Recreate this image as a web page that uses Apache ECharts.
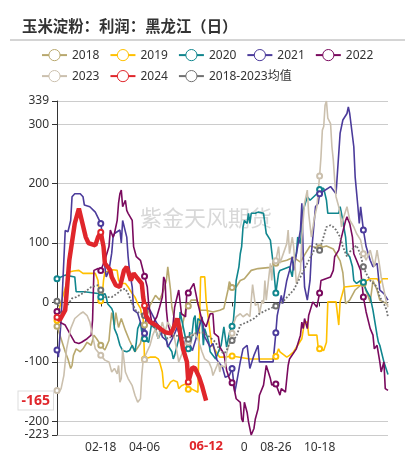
<!DOCTYPE html>
<html><head><meta charset="utf-8">
<script src="https://cdn.jsdelivr.net/npm/echarts@6/dist/echarts.min.js"></script>
<style>html,body{margin:0;padding:0;background:#fff}#c{width:415px;height:460px}</style>
</head><body><div id="c"></div>
<script>
// trading days per month (MM-DD categories)
const monthDays = [
  [2,3,4,5,8,9,10,11,12,15,16,17,18,19,22,23,24,25,26,29,30,31],
  [1,2,5,6,7,8,9,14,15,16,18,19,20,21,22,23,26,27,28,29],
  [1,4,5,6,7,8,11,12,13,14,15,18,19,20,21,22,25,26,27,28,29],
  [3,6,7,8,9,10,11,12,15,16,17,18,19,22,23,24,25,26,28,29,30],
  [6,7,8,9,10,13,14,15,16,17,20,21,22,23,24,27,28,29,30],
  [3,4,5,6,7,11,12,13,14,17,18,19,20,21,24,25,26,27],
  [1,2,3,4,5,8,9,10,11,15,16,17,18,19,22,23,24,25,26,29,30,31],
  [1,2,5,6,7,8,9,12,13,14,15,16,19,20,21,22,23,26,27,28,29,30],
  [2,3,4,5,6,9,10,11,12,13,16,17,18,19,20,23,24,25,26,27],
  [9,10,11,14,15,16,17,18,21,22,23,24,25,28,29,30,31],
  [1,4,5,6,7,8,11,12,13,14,15,18,19,20,21,22,25,26,27,28,29],
  [2,3,4,5,6,9,10,11,12,13,16,17,18,19,20,23,24,25,26,27]
];
const categories = [];
monthDays.forEach((days, m) => days.forEach(d => categories.push(String(m + 1).padStart(2, '0') + '-' + String(d).padStart(2, '0'))));

const labelIndices = [32, 64, 96, 128, 160, 192];
const markerIndices = [0, 32, 64, 96, 128, 160, 192, 224];
const currentIndex = 109;   // 06-12
const currentValue = -165;
const yMin = -223, yMax = 339;

const seriesNames = ['2018', '2019', '2020', '2021', '2022', '2023', '2024', '2018-2023均值'];
const seriesColors = ['#b8a86e', '#ffc000', '#10868e', '#4b3b9b', '#7a0a5e', '#cbc0ae', '#e0262b', '#707070'];

const s2018 = [[0,-40],[3,-61],[6,-83],[8,-95],[10,-111],[11,-106],[12,-89],[14,-78],[17,-83],[19,-78],[22,-67],[25,-72],[27,-55],[29,-61],[32,-72],[35,-80],[38,-64],[39,-38],[40,-17],[42,-38],[43,-17],[45,-42],[47,-27],[50,-47],[53,-64],[57,-83],[61,-69],[64,-38],[68,-5],[72,12],[75,4],[78,21],[80,37],[81,60],[83,21],[84,-8],[86,-30],[88,-41],[90,-58],[94,-13],[96,-6],[98,4],[102,4],[105,-13],[109,-13],[114,-16],[119,-13],[122,-10],[125,21],[126,35],[128,25],[131,26],[134,37],[137,40],[142,54],[147,57],[156,59],[160,66],[163,68],[168,71],[173,76],[178,68],[181,80],[185,95],[190,92],[192,92],[197,95],[202,90],[207,70],[209,50],[211,-2],[214,4],[218,21],[222,29],[224,32],[229,1],[231,37],[234,21],[236,4],[241,-2],[242,-5]];
const s2019 = [[0,-30],[2,-8],[7,32],[8,51],[12,53],[16,54],[17,57],[19,49],[28,49],[30,37],[31,9],[32,3],[33,9],[34,37],[35,51],[36,54],[41,55],[44,54],[45,37],[47,32],[50,32],[52,26],[55,15],[57,9],[59,-2],[61,-10],[62,-22],[63,-27],[64,-95],[65,-92],[68,-92],[72,-92],[74,-95],[75,-100],[77,-117],[78,-142],[80,-145],[83,-134],[85,-131],[88,-134],[89,-145],[91,-140],[94,-137],[96,-146],[98,-145],[103,-151],[104,-151],[105,43],[108,43],[109,4],[112,-52],[113,-69],[117,-86],[119,-92],[123,-92],[128,-90],[141,-95],[158,-95],[160,-91],[162,-78],[163,-83],[168,-92],[170,-89],[173,-83],[176,-72],[179,-61],[181,-33],[183,-33],[184,-55],[185,-52],[190,-55],[191,-77],[192,-78],[195,-81],[197,-67],[198,1],[204,1],[206,-38],[207,1],[210,26],[222,29],[224,34],[229,40],[234,40],[236,32],[238,40],[242,40]];
const s2020 = [[0,40],[6,46],[13,43],[14,18],[20,18],[30,15],[32,9],[35,15],[36,9],[37,-2],[40,-10],[41,-16],[42,-44],[44,-55],[46,-72],[48,-81],[51,-83],[53,-81],[55,-72],[57,-83],[58,-67],[59,-44],[61,-33],[62,-50],[63,-38],[64,-61],[67,-67],[69,-38],[72,-44],[74,-61],[77,-44],[79,-55],[81,-72],[84,-83],[85,-95],[86,-89],[89,-61],[90,-16],[91,-27],[95,-72],[96,-78],[97,-50],[98,-67],[100,-27],[101,-22],[102,-61],[103,-27],[106,-33],[107,-72],[108,-44],[111,-67],[112,-83],[116,-95],[118,-83],[120,-72],[122,-41],[124,-75],[126,-52],[128,-40],[129,-30],[130,-2],[131,37],[133,60],[134,82],[135,94],[136,127],[137,138],[139,133],[140,150],[141,133],[142,150],[145,150],[147,152],[148,155],[151,150],[152,133],[153,116],[156,105],[158,66],[160,16],[162,49],[163,54],[170,60],[172,43],[173,66],[175,82],[176,110],[178,99],[180,155],[183,178],[185,172],[190,183],[192,190],[195,192],[197,172],[198,150],[206,150],[207,161],[208,150],[211,110],[212,82],[214,77],[216,60],[217,37],[219,32],[222,37],[224,34],[226,21],[229,9],[231,-13],[234,-55],[235,-67],[236,-72],[239,-100],[242,-121]];
const s2021 = [[0,-80],[1,-92],[3,-30],[6,121],[8,119],[10,138],[11,178],[13,183],[17,183],[19,178],[20,164],[24,161],[28,152],[32,133],[33,117],[34,94],[35,60],[36,43],[38,54],[40,83],[41,110],[42,116],[46,122],[47,100],[48,138],[51,110],[52,77],[53,54],[55,26],[56,-13],[59,-18],[62,-41],[64,-52],[66,-8],[68,-13],[73,-35],[75,-41],[77,-58],[80,-64],[81,-75],[85,-58],[88,-41],[92,-81],[94,-64],[96,-64],[99,-81],[102,-58],[106,-24],[108,-58],[112,-75],[114,-69],[117,-97],[121,-109],[123,-126],[126,-123],[128,-111],[130,-151],[131,-139],[134,-100],[136,-78],[139,-72],[141,-111],[144,-89],[147,-72],[148,-100],[158,-100],[160,-51],[161,-22],[164,12],[165,-2],[168,37],[170,54],[172,77],[173,54],[178,122],[179,167],[180,83],[181,26],[183,4],[185,37],[186,82],[189,161],[191,167],[192,183],[200,195],[204,183],[207,285],[209,307],[212,318],[213,329],[214,318],[215,315],[217,262],[218,211],[220,161],[221,133],[222,161],[224,122],[226,94],[229,71],[231,60],[234,66],[236,21],[239,15],[242,4]];
const s2022 = [[0,-15],[2,-33],[6,-38],[10,-55],[13,-67],[16,-69],[18,-67],[22,-61],[25,-55],[26,-30],[27,54],[30,57],[32,54],[35,71],[38,94],[39,122],[40,125],[41,110],[42,116],[44,138],[45,167],[46,183],[47,189],[48,161],[50,172],[51,155],[52,150],[55,138],[56,94],[58,77],[61,71],[64,44],[66,26],[67,-2],[69,-30],[70,-36],[73,-24],[75,-8],[77,9],[78,43],[79,37],[80,-13],[81,-36],[84,-58],[86,-8],[89,21],[91,-19],[94,-24],[95,21],[96,16],[100,32],[101,32],[103,-2],[106,-30],[109,-41],[112,-19],[114,-19],[115,-52],[118,-58],[119,-75],[122,-86],[124,-114],[126,-128],[128,-135],[129,-139],[131,-162],[134,-168],[135,-196],[136,-201],[137,-168],[139,-185],[140,-201],[142,-223],[144,-212],[145,-196],[147,-179],[148,-156],[151,-139],[153,-106],[156,-128],[157,-139],[160,-137],[163,-156],[164,-145],[167,-151],[168,-128],[169,-106],[170,-95],[175,-78],[178,-55],[179,-33],[180,-44],[181,-27],[183,-44],[184,-22],[187,1],[190,-8],[192,16],[193,37],[200,43],[202,54],[203,77],[206,88],[208,110],[211,138],[212,144],[214,133],[216,110],[217,82],[219,71],[222,54],[223,32],[224,9],[226,-16],[229,-44],[231,-55],[232,-78],[234,-72],[236,-100],[237,-117],[239,-100],[240,-145],[242,-148]];
const s2023 = [[0,-148],[1,-153],[3,-145],[5,-123],[7,-78],[10,-44],[13,-27],[17,-19],[19,-16],[22,-22],[23,-19],[24,-33],[28,-78],[32,-89],[35,-97],[38,-100],[40,-117],[42,-111],[44,-120],[45,-106],[46,-134],[47,-128],[48,-78],[50,-117],[52,-128],[55,-140],[57,-156],[59,-168],[61,-162],[62,-123],[63,-97],[64,-96],[68,-72],[70,-55],[72,-44],[74,-61],[77,-33],[79,-50],[81,-33],[84,-44],[86,-61],[89,-100],[92,-83],[94,-67],[96,-67],[98,-55],[101,-52],[103,-61],[106,-83],[108,-95],[111,-100],[113,-111],[114,-123],[117,-106],[118,-100],[119,-117],[120,-106],[123,-109],[124,-86],[126,-69],[128,-52],[129,-36],[131,-24],[134,-19],[136,-24],[139,-19],[141,-24],[143,30],[145,-5],[147,-2],[148,-19],[150,4],[151,-2],[152,37],[153,4],[156,66],[157,37],[158,71],[160,70],[161,68],[162,94],[163,66],[168,99],[169,122],[170,82],[172,110],[173,94],[175,32],[178,54],[179,110],[180,139],[181,167],[183,189],[184,150],[186,110],[188,140],[190,161],[192,213],[193,245],[194,290],[195,296],[196,332],[197,339],[198,310],[200,301],[201,262],[202,240],[203,206],[204,178],[206,161],[207,150],[208,127],[209,139],[212,161],[214,139],[217,127],[219,116],[222,105],[224,82],[226,71],[229,88],[232,60],[234,88],[236,60],[237,43],[239,21],[241,-2],[242,-8]];
const s2024 = [[0,-25],[2,-30],[6,-13],[9,71],[13,133],[16,158],[21,110],[23,100],[28,96],[30,110],[32,118],[34,94],[35,66],[39,54],[40,43],[43,29],[46,26],[49,54],[51,60],[54,37],[56,49],[58,43],[62,32],[63,9],[64,-5],[65,-22],[68,-33],[72,-38],[79,-50],[83,-52],[85,-44],[88,-27],[90,-50],[92,-77],[95,-100],[96,-134],[99,-109],[101,-111],[104,-126],[106,-140],[109,-165]];
const sMean = [[0,2],[3,-20],[6,-10],[9,0],[11,7],[14,9],[20,17],[25,26],[30,29],[32,21],[35,9],[40,9],[44,15],[47,21],[50,23],[52,15],[55,-2],[58,-15],[64,-22],[67,-33],[72,-44],[77,-50],[81,-61],[86,-55],[91,-58],[96,-62],[101,-52],[106,-50],[111,-57],[116,-67],[119,-81],[122,-86],[124,-81],[126,-69],[128,-64],[131,-58],[134,-38],[139,-33],[144,-27],[148,-19],[153,-13],[158,-8],[160,-6],[165,1],[173,21],[178,43],[183,66],[188,88],[190,99],[192,88],[197,127],[200,130],[202,127],[204,122],[207,110],[209,94],[212,77],[214,85],[217,92],[219,96],[222,80],[224,60],[226,49],[229,37],[234,26],[236,9],[239,-2],[241,-13],[242,-25]];

const seriesData = [s2018, s2019, s2020, s2021, s2022, s2023, s2024, sMean];
const FONT = "'Noto Sans', 'Noto Sans CJK SC', sans-serif";

const chart = echarts.init(document.getElementById('c'), null, {renderer: 'canvas'});
const drawOrder = [0, 1, 2, 3, 4, 5, 7, 6];
const series = drawOrder.map(k => {
  const name = seriesNames[k], color = seriesColors[k];
  const isMean = k === 7, isCur = k === 6;
  return {
    name, type: 'line', xAxisIndex: 0, yAxisIndex: 0,
    data: seriesData[k],
    symbol: v => markerIndices.includes(v[0]) ? 'emptyCircle' : 'none',
    symbolSize: 5, showAllSymbol: true,
    lineStyle: {color, width: isCur ? 4.5 : (isMean ? 1.8 : 1.6), type: isMean ? 'dotted' : 'solid'},
    itemStyle: {color, borderColor: color, borderWidth: 1},
    emphasis: {disabled: true},
    z: isCur ? 4 : 2
  };
});

const legendItem = name => {
  const k = seriesNames.indexOf(name);
  return {name, itemStyle: {color: '#fff', borderColor: seriesColors[k], borderWidth: 1},
          lineStyle: {color: seriesColors[k], type: 'solid'}};
};
const legendBase = {
  left: 36, itemWidth: 25, itemHeight: 14, itemGap: 10, orient: 'horizontal',
  textStyle: {fontSize: 12, color: '#333', fontFamily: FONT}, selectedMode: false
};

chart.setOption({
  animation: false,
  textStyle: {fontFamily: FONT},
  color: seriesColors,
  title: {
    text: '玉米淀粉：利润：黑龙江（日）', left: 17, top: 13,
    textStyle: {fontSize: 15.4, fontWeight: 'bold', color: '#333', fontFamily: "'Noto Sans CJK SC', sans-serif"}
  },
  legend: [
    Object.assign({}, legendBase, {top: 44, data: seriesNames.slice(0, 5).map(legendItem)}),
    Object.assign({}, legendBase, {top: 65, data: seriesNames.slice(5).map(legendItem)})
  ],
  graphic: [
    {type: 'line', shape: {x1: 10, y1: 40, x2: 405, y2: 40}, style: {stroke: '#aaa', lineWidth: 1}, silent: true},
    {type: 'text', left: 140, top: 207, silent: true, z: 0,
     style: {text: '紫金天风期货', font: "22px 'Noto Sans CJK SC', sans-serif", fill: 'rgba(190,190,190,0.6)'}}
  ],
  grid: {left: 57, right: 27, top: 101, bottom: 25, containLabel: false},
  xAxis: [
    {
      type: 'category', data: categories, boundaryGap: false,
      axisLine: {show: false, onZero: false}, axisTick: {show: false},
      axisLabel: {interval: i => labelIndices.includes(i), color: '#333', fontSize: 12, margin: 7},
      splitLine: {show: false},
      axisPointer: {
        show: true, type: 'none', value: currentIndex, status: 'show', snap: false, triggerTooltip: false,
        label: {show: true, color: '#e0262b', fontWeight: 'bold', fontSize: 13, backgroundColor: '#fff',
                padding: [2, 18], margin: 3, borderRadius: 0}
      }
    },
    {
      type: 'category', data: categories, boundaryGap: false, position: 'bottom',
      axisLine: {show: true, onZero: true, lineStyle: {color: '#333', width: 1}},
      axisTick: {show: true, interval: i => labelIndices.includes(i), length: 4, lineStyle: {color: '#333'}},
      axisLabel: {show: false}, splitLine: {show: false}
    }
  ],
  yAxis: {
    type: 'value', min: yMin, max: yMax,
    axisLine: {show: true, lineStyle: {color: '#333'}},
    axisTick: {show: true, length: 5, lineStyle: {color: '#333'}},
    axisLabel: {color: '#333', fontSize: 12, margin: 8},
    splitLine: {show: true, lineStyle: {color: '#ccc', width: 1}},
    axisPointer: {
      show: true, type: 'none', value: currentValue, status: 'show', snap: false, triggerTooltip: false,
      label: {show: true, color: '#e0262b', fontWeight: 'bold', fontSize: 14, backgroundColor: '#fff',
              borderColor: '#ddd', borderWidth: 1, padding: [2, 3], margin: 4, borderRadius: 0,
              formatter: p => String(Math.round(p.value))}
    }
  },
  series
});
</script></body></html>
